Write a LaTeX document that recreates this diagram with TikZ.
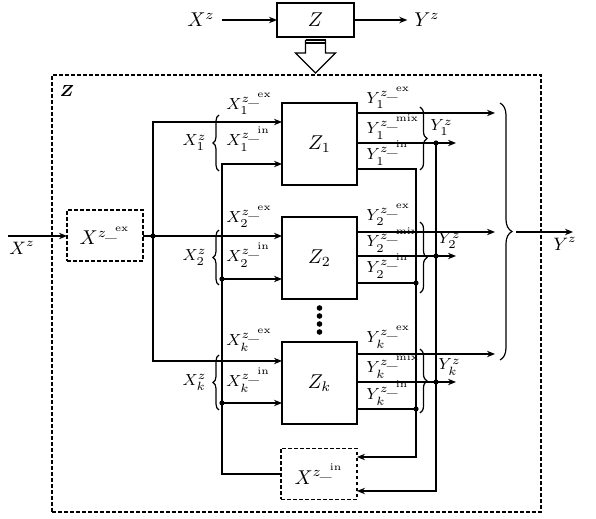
\documentclass[tikz,border=0pt]{standalone}
\usepackage{amsmath,amssymb}
\usepackage{tikz}
\usetikzlibrary{arrows.meta,calc,decorations.pathreplacing,positioning}
\newcommand{\zl}[3]{#1_{#2}^{{z\mkern-1mu\_\mkern-2mu}^{\mathrm{#3}}}}

\begin{document}
\begin{tikzpicture}[x=0.5pt,y=-0.5pt,font=\normalsize,
      blk/.style={draw,line width=1.4pt,minimum width=37.5pt,minimum height=41pt,inner sep=0pt,outer sep=0pt},
      dbox/.style={draw,dash pattern=on 1.8pt off 1.2pt,line width=0.6pt,minimum width=38pt,minimum height=25.5pt,inner sep=0pt,outer sep=0pt},
      lab/.style={font=\footnotesize,inner sep=0pt,anchor=west},
      dot/.style={circle,fill,inner sep=0pt,minimum size=2.6pt},
      a/.style={-{Stealth[length=4pt,width=3.2pt]},line width=0.6pt},
      br/.style={decorate,decoration={brace,amplitude=3pt},line width=0.6pt}]
  \useasboundingbox (0,0) rectangle (596,519);
  % original system
  \node[blk,line width=1.2pt,minimum width=38.5pt,minimum height=17pt] (top) at (315.5,20) {$Z$};
  \node (xtop) at (201,20) {$X^z$};
  \node (ytop) at (427,20) {$Y^z$};
  \draw[a] (xtop)--(top); \draw[a] (top)--(ytop);
  % hollow arrow
  \draw[line width=0.6pt] ($(top.south)+(-10,3)$) -- ++(0,13) -- ++(-10,0) -- ++(20,20) -- ++(20,-20) -- ++(-10,0) -- ++(0,-13);
  \draw[line width=1pt] ($(top.south)+(-10,3.3)$) -- ++(20,0);
  \draw[line width=1pt] ($(top.south)+(-10,6.5)$) -- ++(20,0);
  % decomposed system
  \node[dbox,minimum width=244.5pt,minimum height=218.5pt] (sys) at (296.5,293.5) {};
  \node[font=\footnotesize,inner sep=0pt] (zname) at (67,91) {$\boldsymbol{Z}$};
  \node[blk] (z1) at (319.5,144) {$Z_1$};
  \node[blk] (z2) at (319.5,258) {$Z_2$};
  \node[blk] (zk) at (319.5,383) {$Z_k$};
  \foreach \yy in {308,316,324,332} \node[dot,minimum size=2.8pt] (v\yy) at (319.5,\yy) {};
  \node[dbox] (xex) at (105,235.5) {$X^{{z\mkern-1mu\_\mkern-2mu}^{\mathrm{ex}}}$};
  \node[dbox] (xin) at (319,474) {$X^{{z\mkern-1mu\_\mkern-2mu}^{\mathrm{in}}}$};

  % inputs
  \coordinate (xl) at (8,236);
  \node[font=\small] (xlab) at (22,248) {$X^z$};
  \draw[a] (xl)--(xex.west |- xl);
  \coordinate (j0) at (153,236);
  \coordinate (e1) at ($(z1.north west)+(0,19)$);
  \coordinate (e2) at (z2.west |- j0);
  \coordinate (ek) at ($(zk.north west)+(0,19)$);
  \coordinate (n1) at ($(z1.north west)+(0,61)$);
  \coordinate (n2) at ($(z2.north west)+(0,62)$);
  \coordinate (nk) at ($(zk.north west)+(0,61)$);
  \draw[a] (xex.east |- j0)--(e2); \draw[a] (j0) |- (e1); \draw[a] (j0) |- (ek);
  \node[dot] (dj0) at (j0) {};
  \coordinate (bt) at ($(n1)+(-60,0)$);
  \draw[a] (xin.west) -| (bt) -- (n1);
  \draw[a] (bt |- n2)--(n2); \draw[a] (bt |- nk)--(nk);
  \node[dot] (dn2) at (bt |- n2) {}; \node[dot] (dnk) at (bt |- nk) {};
  \draw[br] (219,171) -- node[midway,left=6pt,font=\footnotesize,inner sep=0pt] (lx1) {$X_1^z$} (219,115);
  \draw[br] (219,285) -- node[midway,left=6pt,font=\footnotesize,inner sep=0pt] (lx2) {$X_2^z$} (219,230);
  \draw[br] (219,410) -- node[midway,left=6pt,font=\footnotesize,inner sep=0pt] (lxk) {$X_k^z$} (219,355);
  \node[lab] (lx1e) at (226,104) {$\zl{X}{1}{ex}$};
  \node[lab] (lx1i) at (226,139) {$\zl{X}{1}{in}$};
  \node[lab] (lx2e) at (226,217) {$\zl{X}{2}{ex}$};
  \node[lab] (lx2i) at (226,255) {$\zl{X}{2}{in}$};
  \node[lab] (lxke) at (226,340) {$\zl{X}{k}{ex}$};
  \node[lab] (lxki) at (226,380) {$\zl{X}{k}{in}$};

  % outputs
  \coordinate (cex) at (495,0); \coordinate (cmx) at (456,0);
  \coordinate (cin) at (416,0); \coordinate (cmb) at (436,0);
  \coordinate (r1) at ($(xin.east)+(0,-17)$); \coordinate (r2) at ($(xin.east)+(0,17)$);
  \coordinate (o1e) at ($(z1.north east)+(0,10)$);
  \coordinate (o1m) at ($(z1.north east)+(0,40)$);
  \coordinate (o1i) at ($(z1.north east)+(0,66)$);
  \coordinate (o2e) at ($(z2.north east)+(0,15)$);
  \coordinate (o2m) at ($(z2.north east)+(0,39)$);
  \coordinate (o2i) at ($(z2.north east)+(0,66)$);
  \coordinate (oke) at ($(zk.north east)+(0,12)$);
  \coordinate (okm) at ($(zk.north east)+(0,40)$);
  \coordinate (oki) at ($(zk.north east)+(0,67)$);
  \draw[a] (o1e)--(o1e -| cex); \draw[a] (o1m)--(o1m -| cmx);
  \draw[a] (o2e)--(o2e -| cex); \draw[a] (o2m)--(o2m -| cmx);
  \draw[a] (oke)--(oke -| cex); \draw[a] (okm)--(okm -| cmx);
  \draw[a] (o1i) -| (cin |- r1) -- (r1);
  \draw[a] (o1m -| cmb) -- (cmb |- r2) -- (r2);
  \draw[line width=0.6pt] (o2i)--(o2i -| cin); \draw[line width=0.6pt] (oki)--(oki -| cin);
  \node[dot] (d1m) at (o1m -| cmb) {}; \node[dot] (d2m) at (o2m -| cmb) {}; \node[dot] (dkm) at (okm -| cmb) {};
  \node[dot] (d2i) at (o2i -| cin) {}; \node[dot] (dki) at (oki -| cin) {};
  \node[lab] (ly1e) at (366,98) {$\zl{Y}{1}{ex}$};
  \node[lab] (ly1m) at (366,127) {$\zl{Y}{1}{mix}$};
  \node[lab] (ly1i) at (366,153) {$\zl{Y}{1}{in}$};
  \node[lab] (ly2e) at (366,215) {$\zl{Y}{2}{ex}$};
  \node[lab] (ly2m) at (366,240) {$\zl{Y}{2}{mix}$};
  \node[lab] (ly2i) at (366,266) {$\zl{Y}{2}{in}$};
  \node[lab] (lyke) at (366,337) {$\zl{Y}{k}{ex}$};
  \node[lab] (lykm) at (366,366) {$\zl{Y}{k}{mix}$};
  \node[lab] (lyki) at (366,393) {$\zl{Y}{k}{in}$};
  \draw[br,decoration={amplitude=3.5pt}] (420,107) -- (420,170);
  \draw[br,decoration={amplitude=3.5pt}] (420,222) -- (420,293);
  \draw[br,decoration={amplitude=3.5pt}] (420,349) -- (420,413);
  \node[lab] (ly1) at (430,128) {$Y_1^z$};
  \node[lab] (ly2) at (438,241) {$Y_2^z$};
  \node[lab] (lyk) at (438,367) {$Y_k^z$};
  \draw[br,decoration={amplitude=6pt}] (500,103) -- (500,360);
  \coordinate (yo) at (516,232); \coordinate (ye) at (573,232);
  \draw[a] (yo)--(ye);
  \node[font=\small] (ylab) at (565,244) {$Y^z$};
\end{tikzpicture}
\end{document}
